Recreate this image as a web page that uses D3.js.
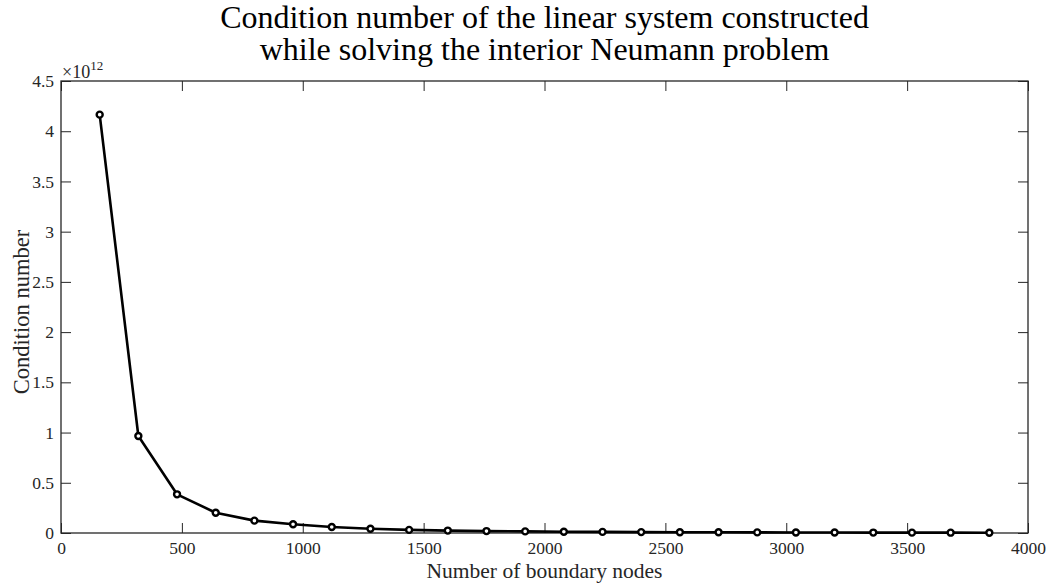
<!DOCTYPE html>
<html>
<head>
<meta charset="utf-8">
<script src="https://cdn.jsdelivr.net/npm/d3@7"></script>
<style>
  html, body { margin: 0; padding: 0; background: #fff; }
  svg { display: block; }
  text { font-family: "Liberation Serif", "Times New Roman", serif; }
</style>
</head>
<body>
<svg id="chart" width="1052" height="585"></svg>
<script>
// Number of boundary nodes used in each run
const nodes = [160, 320, 480, 640, 800, 960, 1120, 1280, 1440, 1600, 1760, 1920,
               2080, 2240, 2400, 2560, 2720, 2880, 3040, 3200, 3360, 3520, 3680, 3840];
// Condition number (in units of 1e12)
const condition = [4.165, 0.966, 0.385, 0.202, 0.123, 0.087, 0.060, 0.042, 0.031, 0.024,
                   0.019, 0.016, 0.013, 0.011, 0.009, 0.008, 0.007, 0.006, 0.0052, 0.0046,
                   0.0041, 0.0037, 0.0033, 0.0030];
const xTicks = [0, 500, 1000, 1500, 2000, 2500, 3000, 3500, 4000];
const yTicks = [0, 0.5, 1, 1.5, 2, 2.5, 3, 3.5, 4, 4.5];
const titleLines = ["Condition number of the linear system constructed",
                    "while solving the interior Neumann problem"];

const svg = d3.select("#chart");
const plotL = 61, plotR = 1028, plotT = 81, plotB = 533;
const axisColor = "#262626";

const x = d3.scaleLinear().domain([0, 4000]).range([plotL, plotR]);
const y = d3.scaleLinear().domain([0, 4.5]).range([plotB, plotT]);
const tickLen = 10;

// Bottom axis (ticks pointing inward)
const gx = svg.append("g").attr("transform", `translate(0,${plotB})`)
  .call(d3.axisBottom(x).tickValues(xTicks).tickSizeInner(-tickLen).tickSizeOuter(0).tickPadding(9)
        .tickFormat(d3.format("d")));
// Top axis (ticks only)
const gxt = svg.append("g").attr("transform", `translate(0,${plotT})`)
  .call(d3.axisTop(x).tickValues(xTicks).tickSizeInner(-tickLen).tickSizeOuter(0).tickFormat(""));
// Left axis
const gy = svg.append("g").attr("transform", `translate(${plotL},0)`)
  .call(d3.axisLeft(y).tickValues(yTicks).tickSizeInner(-tickLen).tickSizeOuter(0).tickPadding(7)
        .tickFormat(d => d3.format("")(d)));
// Right axis (ticks only)
const gyr = svg.append("g").attr("transform", `translate(${plotR},0)`)
  .call(d3.axisRight(y).tickValues(yTicks).tickSizeInner(-tickLen).tickSizeOuter(0).tickFormat(""));

[gx, gxt, gy, gyr].forEach(g => {
  g.select(".domain").remove();
  g.selectAll(".tick line").attr("stroke", axisColor).attr("stroke-width", 1);
  g.selectAll(".tick text").attr("fill", axisColor).style("font-size", "17.5px");
});
gx.selectAll(".tick text").attr("dy", "0.71em");

// Box around the plot area
svg.append("rect")
  .attr("x", plotL).attr("y", plotT)
  .attr("width", plotR - plotL).attr("height", plotB - plotT)
  .attr("fill", "none").attr("stroke", axisColor).attr("stroke-width", 1.3);

// Exponent label
const ex = svg.append("text").attr("x", plotL + 1).attr("y", plotT - 3)
  .attr("fill", axisColor).style("font-size", "18px");
ex.append("tspan").text("\u00d710");
ex.append("tspan").attr("dy", -8).style("font-size", "13px").text("12");

// Data line
const line = d3.line().x((d, i) => x(nodes[i])).y(d => y(d));
svg.append("path").datum(condition)
  .attr("d", line)
  .attr("fill", "none").attr("stroke", "#000").attr("stroke-width", 2.6)
  .attr("stroke-linejoin", "round");

// Markers
svg.append("g").selectAll("circle").data(condition).join("circle")
  .attr("cx", (d, i) => x(nodes[i])).attr("cy", d => y(d))
  .attr("r", 3).attr("fill", "#fff").attr("stroke", "#000").attr("stroke-width", 2.4);

// Title, one text element per line
svg.append("g").selectAll("text").data(titleLines).join("text")
  .attr("text-anchor", "middle").attr("fill", "#000")
  .style("font-size", "32px")
  .attr("x", (plotL + plotR) / 2).attr("y", (d, i) => 28 + i * 32).text(d => d);

// Axis labels
svg.append("text").attr("x", (plotL + plotR) / 2).attr("y", 578)
  .attr("text-anchor", "middle").attr("fill", axisColor).style("font-size", "21.5px")
  .text("Number of boundary nodes");
svg.append("text")
  .attr("transform", `translate(29,${(plotT + plotB) / 2 + 5}) rotate(-90)`)
  .attr("text-anchor", "middle").attr("fill", axisColor).style("font-size", "22.5px")
  .text("Condition number");
</script>
</body>
</html>
